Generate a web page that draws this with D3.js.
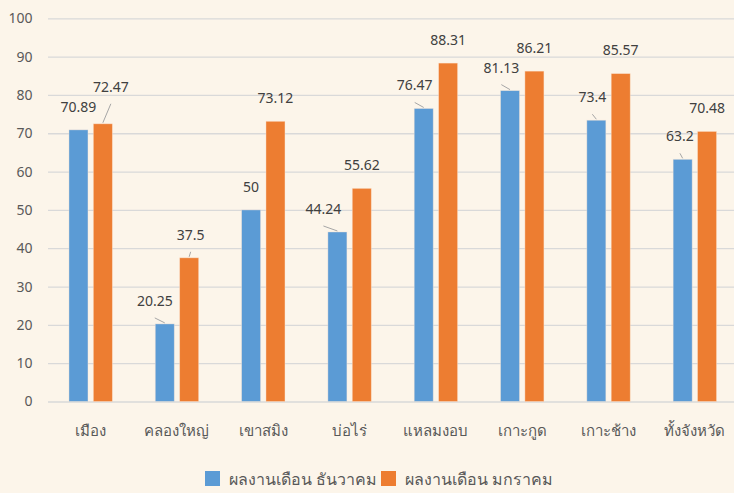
<!DOCTYPE html>
<html>
  <head>
    <meta charset="utf-8" />
    <title>ผลงานเดือน ธันวาคม / มกราคม</title>
    <script src="https://d3js.org/d3.v7.min.js"></script>
    <style>
      body { margin: 0; background: #fcf5ea; }
      svg { display: block; font-family: "Noto Sans", "DejaVu Sans", sans-serif; }
    </style>
  </head>
  <body>
    <svg width="734" height="493" id="chart"></svg>

    <script>
      // categories (districts) and the two monthly series
      var categories = ["เมือง", "คลองใหญ่", "เขาสมิง", "บ่อไร่", "แหลมงอบ", "เกาะกูด", "เกาะช้าง", "ทั้งจังหวัด"];
      var seriesNames = ["ผลงานเดือน ธันวาคม", "ผลงานเดือน มกราคม"];
      var decValues = [70.89, 20.25, 50, 44.24, 76.47, 81.13, 73.4, 63.2];
      var janValues = [72.47, 37.5, 73.12, 55.62, 88.31, 86.21, 85.57, 70.48];
      var yTicks = [0, 10, 20, 30, 40, 50, 60, 70, 80, 90, 100];

      var colors = ["#5b9bd5", "#ed7d31"];

      // labels that were dragged away from their bar in the original (dx, dy)
      var decLabelShift = [[0, 0], [-10, 0], [0, 0], [-14, 0], [-9, 0], [-8.7, 0], [-4, 0], [-2.7, 0]];
      var janLabelShift = [[8, -14], [1.5, 0], [0, 0], [0, 0], [0, 0], [0, 0], [0, 0], [0, 0]];

      var svg = d3.select("#chart");

      var x0 = d3.scaleBand()
        .domain(categories)
        .range([47.5, 738]);

      var x1 = d3.scaleBand()
        .domain(seriesNames)
        .range([-21.7, 21.7])
        .paddingInner(0.22);

      var y = d3.scaleLinear()
        .domain([0, 100])
        .range([401.5, 18.3]);

      // gridlines + y labels
      var yAxis = svg.append("g")
        .attr("transform", "translate(48,0)")
        .call(d3.axisLeft(y).tickValues(yTicks).tickSize(-690).tickPadding(15.5));
      yAxis.select(".domain").remove();
      yAxis.selectAll("line").attr("stroke", "#d9d9d9").attr("stroke-width", 1.3);
      yAxis.selectAll("text")
        .attr("fill", "#595959")
        .style("font-size", "14px")
        .style("font-family", "\"Noto Sans\", sans-serif");

      // category labels
      var xAxis = svg.append("g")
        .attr("transform", "translate(0," + y(0) + ")")
        .call(d3.axisBottom(x0).tickSize(0));
      xAxis.select(".domain").remove();
      xAxis.selectAll("text")
        .attr("y", 29)
        .attr("dy", "0.35em")
        .attr("fill", "#595959")
        .style("font-size", "15px");

      var rows = categories.map(function(c, i) {
        return [
          { cat: c, s: 0, value: decValues[i], shift: decLabelShift[i] },
          { cat: c, s: 1, value: janValues[i], shift: janLabelShift[i] }
        ];
      });
      var points = d3.merge(rows);

      function barCenter(d) {
        return x0(d.cat) + x0.bandwidth() / 2 + x1(seriesNames[d.s]) + x1.bandwidth() / 2;
      }

      svg.append("g").selectAll("rect")
        .data(points)
        .join("rect")
        .attr("x", function(d) { return barCenter(d) - x1.bandwidth() / 2; })
        .attr("y", function(d) { return y(d.value); })
        .attr("width", x1.bandwidth())
        .attr("height", function(d) { return y(0) - y(d.value); })
        .attr("fill", function(d) { return colors[d.s]; })
        .attr("stroke", "#fde9d9")
        .attr("stroke-opacity", 0.5)
        .attr("stroke-width", 0.8);

      // leader lines for moved labels
      svg.append("g").selectAll("line")
        .data(points.filter(function(d) { return d.shift[0] != 0 || d.shift[1] != 0; }))
        .join("line")
        .attr("x1", function(d) { return barCenter(d) + d.shift[0]; })
        .attr("y1", function(d) { return y(d.value) - 23 + d.shift[1] + 17; })
        .attr("x2", function(d) { return barCenter(d); })
        .attr("y2", function(d) { return y(d.value) - 1; })
        .attr("stroke", "#a6a6a6")
        .attr("stroke-width", 1);

      // value labels
      svg.append("g").selectAll("text")
        .data(points)
        .join("text")
        .attr("x", function(d) { return barCenter(d) + d.shift[0]; })
        .attr("y", function(d) { return y(d.value) - 23 + d.shift[1]; })
        .attr("dy", "0.35em")
        .attr("text-anchor", "middle")
        .attr("fill", "#404040")
        .style("font-size", "14px")
        .text(function(d) { return d.value; });

      // legend
      var legendX = [205, 381];
      var legend = svg.append("g").selectAll("g")
        .data(seriesNames)
        .join("g")
        .attr("transform", function(d, i) { return "translate(" + legendX[i] + ",471)"; });
      legend.append("rect")
        .attr("width", 15)
        .attr("height", 15)
        .attr("fill", function(d, i) { return colors[i]; });
      legend.append("text")
        .attr("x", 24)
        .attr("y", 8)
        .attr("dy", "0.35em")
        .attr("fill", "#595959")
        .style("font-size", "16px")
        .text(function(d) { return d; });
    </script>
  </body>
</html>
